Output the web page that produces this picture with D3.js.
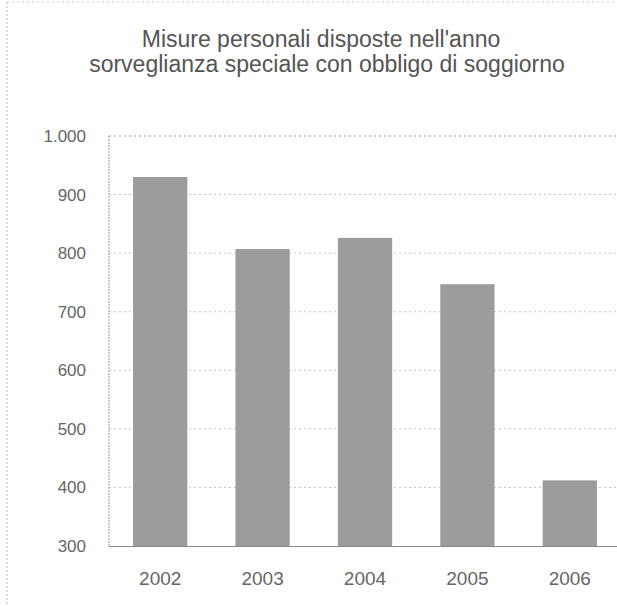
<!DOCTYPE html>
<html>
<head>
<meta charset="utf-8">
<script src="https://cdn.jsdelivr.net/npm/d3@7"></script>
<style>
  html, body { margin: 0; padding: 0; background: #fff; }
  svg { display: block; }
  text { font-family: "Liberation Sans", Arial, sans-serif; }
</style>
</head>
<body>
<svg id="chart" width="617" height="606"></svg>
<script>
const titleLines = ["Misure personali disposte nell'anno", "sorveglianza speciale con obbligo di soggiorno"];
const years = ["2002", "2003", "2004", "2005", "2006"];
const values = [930, 807, 826, 747, 412];
const yTicks = [300, 400, 500, 600, 700, 800, 900, 1000];

const svg = d3.select("#chart");
const W = 617, H = 606;
const plot = { left: 109, right: 621, top: 136, bottom: 546 };

// outer frame (faint dotted)
svg.append("line").attr("x1", 7).attr("x2", 7).attr("y1", 2).attr("y2", H)
  .attr("stroke", "#bbb").attr("stroke-width", 1).attr("stroke-dasharray", "2,2");
svg.append("line").attr("x1", 7).attr("x2", W).attr("y1", 2).attr("y2", 2)
  .attr("stroke", "#c8c8c8").attr("stroke-width", 1).attr("stroke-dasharray", "2,3");

// title
svg.append("g").selectAll("text").data(titleLines).join("text")
  .attr("x", (d, i) => i === 0 ? 321 : 327).attr("y", (d, i) => 47 + i * 25)
  .attr("text-anchor", "middle")
  .attr("font-size", 23)
  .attr("fill", "#555")
  .text(d => d);

const x = d3.scaleBand().domain(years).range([plot.left, plot.right])
  .paddingInner(0.47).paddingOuter(0.235);
const y = d3.scaleLinear().domain([300, 1000]).range([plot.bottom, plot.top]);

// gridlines
svg.append("g").selectAll("line").data(yTicks.filter(t => t > 300)).join("line")
  .attr("x1", plot.left).attr("x2", plot.right)
  .attr("y1", d => y(d)).attr("y2", d => y(d))
  .attr("stroke", d => d === 1000 ? "#999" : "#c4c4c4")
  .attr("stroke-width", 1)
  .attr("stroke-dasharray", "2,3");

// left axis line
svg.append("line").attr("x1", plot.left).attr("x2", plot.left)
  .attr("y1", plot.top).attr("y2", plot.bottom)
  .attr("stroke", "#999").attr("stroke-dasharray", "2,1");

// bars
svg.append("g").selectAll("rect").data(values).join("rect")
  .attr("x", (d, i) => x(years[i]))
  .attr("width", x.bandwidth())
  .attr("y", d => y(d))
  .attr("height", d => y(300) - y(d))
  .attr("fill", "#9c9c9c");

// bottom axis line
svg.append("line").attr("x1", plot.left).attr("x2", plot.right)
  .attr("y1", plot.bottom + 0.5).attr("y2", plot.bottom + 0.5)
  .attr("stroke", "#888").attr("stroke-width", 1);

// y axis labels
const fmt = d3.formatLocale({ decimal: ",", thousands: ".", grouping: [3], currency: ["", "€"] }).format(",d");
const yAxis = d3.axisLeft(y).tickValues(yTicks).tickFormat(fmt).tickSize(0).tickPadding(0);
const yg = svg.append("g").attr("transform", `translate(86,0)`).call(yAxis);
yg.select(".domain").remove();
yg.selectAll("text").attr("font-size", 17).attr("fill", "#666")
  .attr("font-family", "'Liberation Sans', Arial, sans-serif");

// x axis labels
const xAxis = d3.axisBottom(x).tickSize(0).tickPadding(0);
const xg = svg.append("g").attr("transform", `translate(0,571)`).call(xAxis);
xg.select(".domain").remove();
xg.selectAll("text").attr("font-size", 19).attr("fill", "#666")
  .attr("font-family", "'Liberation Sans', Arial, sans-serif");
</script>
</body>
</html>
